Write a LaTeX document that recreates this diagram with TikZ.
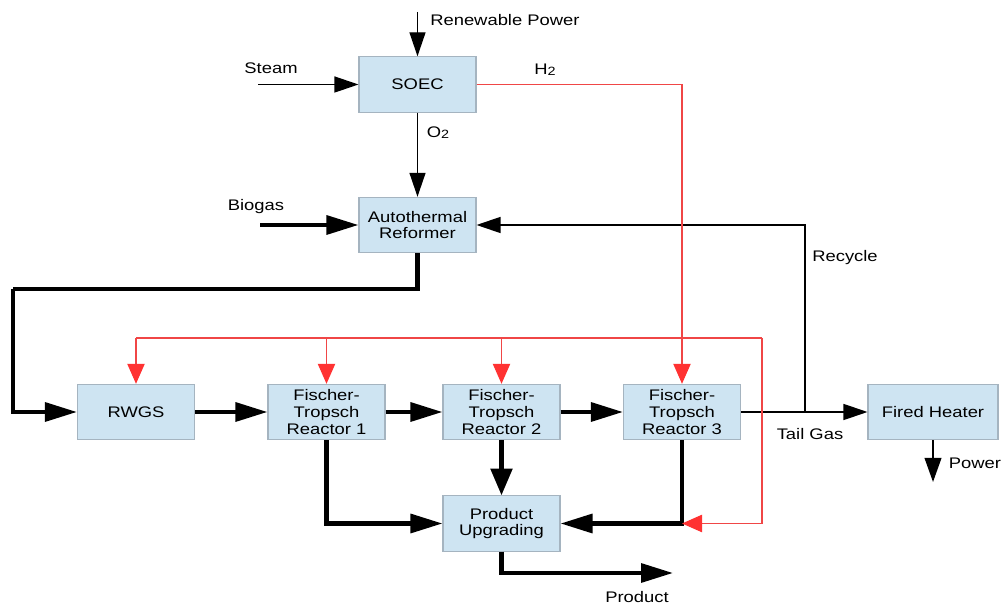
\documentclass[tikz,border=0pt]{standalone}
\usepackage{fontspec}
\setmainfont{Liberation Sans}[FakeStretch=1.2]
\usetikzlibrary{arrows.meta}
\definecolor{boxfill}{RGB}{206,228,242}
\definecolor{boxline}{RGB}{165,180,192}
\definecolor{hred}{RGB}{240,70,70}
\definecolor{hredtip}{RGB}{255,50,50}
\tikzset{
  unitbox/.style={draw=boxline, fill=boxfill, line width=0.8pt, minimum width=87.75pt, minimum height=41.5pt, inner sep=0pt, align=center, font=\fontsize{11.5}{12.6}\selectfont},
  lbl/.style={font=\fontsize{11.5}{12.4}\selectfont, inner sep=0pt},
  fatline/.style={line width=3.2pt},
  fatarrow/.style={line width=3.2pt, -{Triangle[length=24pt, width=14pt]}},
  slimarrow/.style={line width=1pt, -{Triangle[length=18pt, width=12pt]}},
  hline/.style={color=hred, line width=0.9pt},
  harrow/.style={color=hred, line width=0.9pt, -{Triangle[length=15pt, width=13pt, color=hredtip]}},
}
\begin{document}
\begin{tikzpicture}[x=0.75pt, y=-0.75pt]
\useasboundingbox (0,0) rectangle (1003,605);
% boxes
\node[unitbox] (soec) at (417.5,84.5) {SOEC};
\node[unitbox] (atr) at (417.5,225) {Autothermal\\Reformer};
\node[unitbox] (rwgs) at (136,412) {RWGS};
\node[unitbox] (ft1) at (326.5,412) {Fischer-\\Tropsch\\Reactor 1};
\node[unitbox] (ft2) at (501.5,412) {Fischer-\\Tropsch\\Reactor 2};
\node[unitbox] (ft3) at (682,412) {Fischer-\\Tropsch\\Reactor 3};
\node[unitbox, minimum width=97.5pt] (fh) at (933,412) {Fired Heater};
\node[unitbox] (pu) at (501.5,523.5) {Product\\Upgrading};
% free ends
\coordinate (rp) at (417.5,12);
\coordinate (st) at (258,84.5);
\coordinate (bg) at (260,225);
\coordinate (rj) at (805,412);
\coordinate (c1) at (13,289);
\coordinate (rA) at (762,338);
\coordinate (prod) at (673,573);
\coordinate (pw) at (933,482);
\coordinate (ft3c) at (682,523.5);
% labels
\node[lbl, anchor=west] (lrp) at (430,20) {Renewable Power};
\node[lbl] (lst) at (271,68) {Steam};
\node[lbl] (lh2) at (545,70) {H\raisebox{-0.6pt}{\fontsize{9}{9}\selectfont 2}};
\node[lbl] (lo2) at (438,133) {O\raisebox{-0.6pt}{\fontsize{9}{9}\selectfont 2}};
\node[lbl] (lbg) at (256,207) {Biogas};
\node[lbl] (lrc) at (845,258) {Recycle};
\node[lbl] (ltg) at (810,434) {Tail Gas};
\node[lbl] (lpw) at (975,463) {Power};
\node[lbl] (lpr) at (637,597) {Product};
% thin black connectors
\draw[slimarrow] (rp) -- (soec.north);
\draw[slimarrow] (st) -- (soec.west);
\draw[slimarrow] (soec.south) -- (atr.north);
\draw[slimarrow] (rj) |- (atr.east);
\draw[slimarrow] (ft3.east) -- (fh.west);
\draw[line width=1.3pt, -{Triangle[length=18pt, width=12.5pt]}] (fh.south) -- (pw);
% thick black connectors
\draw[fatarrow] (bg) -- (atr.west);
\draw[fatline] (atr.south) |- (c1);
\draw[fatarrow] (c1) |- (rwgs.west);
\draw[fatarrow] (rwgs.east) -- (ft1.west);
\draw[fatarrow] (ft1.east) -- (ft2.west);
\draw[fatarrow] (ft2.east) -- (ft3.west);
\draw[fatarrow] (ft1.south) |- (pu.west);
\draw[line width=3.2pt, -{Triangle[length=20pt, width=16pt]}] (ft2.south) -- (pu.north);
\draw[fatarrow] (ft3.south) |- (pu.east);
\draw[fatarrow] (pu.south) |- (prod);
% hydrogen (red)
\draw[harrow] (soec.east) -| (ft3.north);
\draw[hline] (rwgs.north |- rA) -- (rA);
\draw[harrow] (rA) |- (ft3c);
\draw[harrow] (rwgs.north |- rA) -- (rwgs.north);
\draw[harrow] (ft1.north |- rA) -- (ft1.north);
\draw[harrow] (ft2.north |- rA) -- (ft2.north);
\end{tikzpicture}
\end{document}
